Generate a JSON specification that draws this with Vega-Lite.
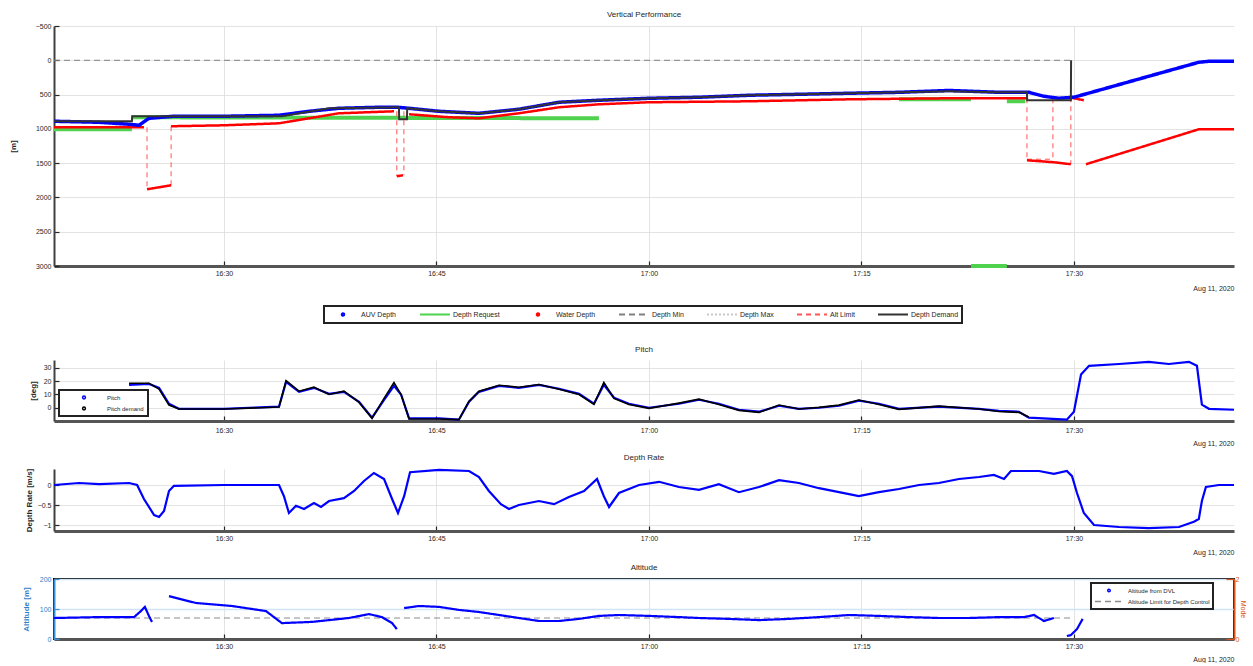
{
  "$schema": "https://vega.github.io/schema/vega-lite/v6.json",
  "padding": {"left": 9, "top": 11, "right": 0, "bottom": 0},
  "spacing": 8,
  "resolve": {"scale": {"color": "independent", "strokeDash": "independent"}, "legend": {"color": "independent", "strokeDash": "independent"}},
  "config": {
    "font": "Liberation Sans",
    "view": {"stroke": null},
    "axis": {"labelFontSize": 7, "titleFontSize": 8, "titleFontWeight": "normal", "labelColor": "#262626", "titleColor": "#262626", "gridColor": "#dcdcdc", "gridWidth": 0.8, "domainColor": "#404040", "domainWidth": 2, "tickColor": "#262626", "tickSize": -5, "labelPadding": 8, "tickWidth": 1.2},
    "axisX": {"domainWidth": 3, "domainColor": "#555555"},
    "title": {"fontSize": 8, "fontWeight": "normal", "color": "#262626", "offset": 3},
    "legend": {"labelFontSize": 7, "labelColor": "#262626"}
  },
  "vconcat": [
    {
      "title": "Vertical Performance",
      "width": 1180,
      "height": 240,
      "data": {
        "format": {"parse": {"t": "date:'%H:%M:%S'"}},
        "values": [
          {"t": "16:18:00", "d": 889, "s": "AUV Depth", "g": "a"},
          {"t": "16:21:11", "d": 904, "s": "AUV Depth", "g": "a"},
          {"t": "16:23:18", "d": 933, "s": "AUV Depth", "g": "a"},
          {"t": "16:24:00", "d": 948, "s": "AUV Depth", "g": "a"},
          {"t": "16:24:42", "d": 846, "s": "AUV Depth", "g": "a"},
          {"t": "16:26:28", "d": 816, "s": "AUV Depth", "g": "a"},
          {"t": "16:30:00", "d": 816, "s": "AUV Depth", "g": "a"},
          {"t": "16:33:53", "d": 802, "s": "AUV Depth", "g": "a"},
          {"t": "16:36:00", "d": 744, "s": "AUV Depth", "g": "a"},
          {"t": "16:38:06", "d": 700, "s": "AUV Depth", "g": "a"},
          {"t": "16:40:56", "d": 685, "s": "AUV Depth", "g": "a"},
          {"t": "16:42:12", "d": 685, "s": "AUV Depth", "g": "a"},
          {"t": "16:43:04", "d": 700, "s": "AUV Depth", "g": "a"},
          {"t": "16:45:11", "d": 744, "s": "AUV Depth", "g": "a"},
          {"t": "16:48:00", "d": 773, "s": "AUV Depth", "g": "a"},
          {"t": "16:50:49", "d": 714, "s": "AUV Depth", "g": "a"},
          {"t": "16:53:39", "d": 612, "s": "AUV Depth", "g": "a"},
          {"t": "16:56:28", "d": 583, "s": "AUV Depth", "g": "a"},
          {"t": "17:00:00", "d": 554, "s": "AUV Depth", "g": "a"},
          {"t": "17:03:32", "d": 539, "s": "AUV Depth", "g": "a"},
          {"t": "17:07:04", "d": 510, "s": "AUV Depth", "g": "a"},
          {"t": "17:10:35", "d": 496, "s": "AUV Depth", "g": "a"},
          {"t": "17:14:07", "d": 481, "s": "AUV Depth", "g": "a"},
          {"t": "17:17:39", "d": 467, "s": "AUV Depth", "g": "a"},
          {"t": "17:21:11", "d": 440, "s": "AUV Depth", "g": "a"},
          {"t": "17:24:42", "d": 467, "s": "AUV Depth", "g": "a"},
          {"t": "17:26:49", "d": 467, "s": "AUV Depth", "g": "a"},
          {"t": "17:27:53", "d": 525, "s": "AUV Depth", "g": "a"},
          {"t": "17:28:56", "d": 554, "s": "AUV Depth", "g": "a"},
          {"t": "17:30:00", "d": 539, "s": "AUV Depth", "g": "a"},
          {"t": "17:31:46", "d": 437, "s": "AUV Depth", "g": "a"},
          {"t": "17:35:17", "d": 233, "s": "AUV Depth", "g": "a"},
          {"t": "17:38:49", "d": 29, "s": "AUV Depth", "g": "a"},
          {"t": "17:39:30", "d": 15, "s": "AUV Depth", "g": "a"},
          {"t": "17:41:18", "d": 15, "s": "AUV Depth", "g": "a"},

          {"t": "16:18:00", "d": 889, "s": "Depth Demand", "g": "k"},
          {"t": "16:23:30", "d": 889, "s": "Depth Demand", "g": "k"},
          {"t": "16:23:31", "d": 816, "s": "Depth Demand", "g": "k"},
          {"t": "16:34:06", "d": 816, "s": "Depth Demand", "g": "k"},
          {"t": "16:37:25", "d": 700, "s": "Depth Demand", "g": "k"},
          {"t": "16:42:21", "d": 685, "s": "Depth Demand", "g": "k"},
          {"t": "16:42:22", "d": 860, "s": "Depth Demand", "g": "k"},
          {"t": "16:42:55", "d": 860, "s": "Depth Demand", "g": "k"},
          {"t": "16:42:56", "d": 700, "s": "Depth Demand", "g": "k"},
          {"t": "16:45:11", "d": 744, "s": "Depth Demand", "g": "k"},
          {"t": "16:48:00", "d": 773, "s": "Depth Demand", "g": "k"},
          {"t": "16:50:49", "d": 714, "s": "Depth Demand", "g": "k"},
          {"t": "16:53:39", "d": 612, "s": "Depth Demand", "g": "k"},
          {"t": "16:56:28", "d": 583, "s": "Depth Demand", "g": "k"},
          {"t": "17:00:00", "d": 554, "s": "Depth Demand", "g": "k"},
          {"t": "17:03:32", "d": 539, "s": "Depth Demand", "g": "k"},
          {"t": "17:07:04", "d": 510, "s": "Depth Demand", "g": "k"},
          {"t": "17:10:35", "d": 496, "s": "Depth Demand", "g": "k"},
          {"t": "17:14:07", "d": 481, "s": "Depth Demand", "g": "k"},
          {"t": "17:17:39", "d": 467, "s": "Depth Demand", "g": "k"},
          {"t": "17:21:11", "d": 452, "s": "Depth Demand", "g": "k"},
          {"t": "17:24:42", "d": 467, "s": "Depth Demand", "g": "k"},
          {"t": "17:26:41", "d": 467, "s": "Depth Demand", "g": "k"},
          {"t": "17:26:42", "d": 583, "s": "Depth Demand", "g": "k"},
          {"t": "17:29:47", "d": 583, "s": "Depth Demand", "g": "k"},
          {"t": "17:29:48", "d": 0, "s": "Depth Demand", "g": "k"},

          {"t": "16:18:00", "d": 977, "s": "Water Depth", "g": "w1"},
          {"t": "16:24:21", "d": 977, "s": "Water Depth", "g": "w1"},
          {"t": "16:24:34", "d": 1881, "s": "Water Depth", "g": "w2"},
          {"t": "16:26:16", "d": 1823, "s": "Water Depth", "g": "w2"},
          {"t": "16:26:16", "d": 962, "s": "Water Depth", "g": "w3"},
          {"t": "16:30:00", "d": 948, "s": "Water Depth", "g": "w3"},
          {"t": "16:33:53", "d": 919, "s": "Water Depth", "g": "w3"},
          {"t": "16:36:00", "d": 846, "s": "Water Depth", "g": "w3"},
          {"t": "16:38:06", "d": 773, "s": "Water Depth", "g": "w3"},
          {"t": "16:42:00", "d": 744, "s": "Water Depth", "g": "w3"},
          {"t": "16:42:12", "d": 1691, "s": "Water Depth", "g": "w4"},
          {"t": "16:42:38", "d": 1677, "s": "Water Depth", "g": "w4"},
          {"t": "16:43:04", "d": 787, "s": "Water Depth", "g": "w5"},
          {"t": "16:45:53", "d": 831, "s": "Water Depth", "g": "w5"},
          {"t": "16:48:00", "d": 846, "s": "Water Depth", "g": "w5"},
          {"t": "16:50:49", "d": 773, "s": "Water Depth", "g": "w5"},
          {"t": "16:53:39", "d": 685, "s": "Water Depth", "g": "w5"},
          {"t": "16:56:28", "d": 642, "s": "Water Depth", "g": "w5"},
          {"t": "17:00:00", "d": 612, "s": "Water Depth", "g": "w5"},
          {"t": "17:07:04", "d": 598, "s": "Water Depth", "g": "w5"},
          {"t": "17:14:07", "d": 569, "s": "Water Depth", "g": "w5"},
          {"t": "17:21:11", "d": 554, "s": "Water Depth", "g": "w5"},
          {"t": "17:26:41", "d": 554, "s": "Water Depth", "g": "w5"},
          {"t": "17:26:41", "d": 1458, "s": "Water Depth", "g": "w6"},
          {"t": "17:28:35", "d": 1487, "s": "Water Depth", "g": "w6"},
          {"t": "17:29:47", "d": 1516, "s": "Water Depth", "g": "w6"},
          {"t": "17:29:39", "d": 539, "s": "Water Depth", "g": "w7"},
          {"t": "17:30:42", "d": 583, "s": "Water Depth", "g": "w7"},
          {"t": "17:30:51", "d": 1516, "s": "Water Depth", "g": "w8"},
          {"t": "17:38:49", "d": 1006, "s": "Water Depth", "g": "w8"},
          {"t": "17:41:18", "d": 1006, "s": "Water Depth", "g": "w8"},

          {"t": "16:18:00", "d": 1006, "s": "Depth Request", "g": "r1"},
          {"t": "16:23:30", "d": 1006, "s": "Depth Request", "g": "r1"},
          {"t": "16:23:30", "d": 831, "s": "Depth Request", "g": "r2"},
          {"t": "16:56:28", "d": 846, "s": "Depth Request", "g": "r2"},
          {"t": "17:17:39", "d": 569, "s": "Depth Request", "g": "r3"},
          {"t": "17:22:44", "d": 569, "s": "Depth Request", "g": "r3"},
          {"t": "17:22:44", "d": 3000, "s": "Depth Request", "g": "r4"},
          {"t": "17:25:16", "d": 3000, "s": "Depth Request", "g": "r4"},
          {"t": "17:25:16", "d": 598, "s": "Depth Request", "g": "r5"},
          {"t": "17:26:34", "d": 598, "s": "Depth Request", "g": "r5"},

          {"t": "16:18:00", "d": 0, "s": "Depth Min", "g": "m"},
          {"t": "17:29:47", "d": 0, "s": "Depth Min", "g": "m"},

          {"t": "16:24:34", "d": 977, "s": "Alt Limit", "g": "l1"},
          {"t": "16:24:34", "d": 1881, "s": "Alt Limit", "g": "l1"},
          {"t": "16:26:16", "d": 962, "s": "Alt Limit", "g": "l2"},
          {"t": "16:26:16", "d": 1823, "s": "Alt Limit", "g": "l2"},
          {"t": "16:42:12", "d": 744, "s": "Alt Limit", "g": "l3"},
          {"t": "16:42:12", "d": 1691, "s": "Alt Limit", "g": "l3"},
          {"t": "16:42:42", "d": 744, "s": "Alt Limit", "g": "l4"},
          {"t": "16:42:42", "d": 1677, "s": "Alt Limit", "g": "l4"},
          {"t": "17:26:41", "d": 554, "s": "Alt Limit", "g": "l5"},
          {"t": "17:26:41", "d": 1458, "s": "Alt Limit", "g": "l5"},
          {"t": "17:26:41", "d": 1443, "s": "Alt Limit", "g": "l6"},
          {"t": "17:28:31", "d": 1443, "s": "Alt Limit", "g": "l6"},
          {"t": "17:28:31", "d": 554, "s": "Alt Limit", "g": "l7"},
          {"t": "17:28:31", "d": 1487, "s": "Alt Limit", "g": "l7"},
          {"t": "17:29:47", "d": 539, "s": "Alt Limit", "g": "l8"},
          {"t": "17:29:47", "d": 1516, "s": "Alt Limit", "g": "l8"}
        ]
      },
      "encoding": {
        "x": {"field": "t", "type": "temporal", "scale": {"domain": [{"year": 1900, "month": 1, "date": 1, "hours": 16, "minutes": 18}, {"year": 1900, "month": 1, "date": 1, "hours": 17, "minutes": 41, "seconds": 18}]},
          "axis": {"values": [{"year": 1900, "month": 1, "date": 1, "hours": 16, "minutes": 30}, {"year": 1900, "month": 1, "date": 1, "hours": 16, "minutes": 45}, {"year": 1900, "month": 1, "date": 1, "hours": 17, "minutes": 0}, {"year": 1900, "month": 1, "date": 1, "hours": 17, "minutes": 15}, {"year": 1900, "month": 1, "date": 1, "hours": 17, "minutes": 30}], "format": "%H:%M", "title": "Aug 11, 2020", "titleAnchor": "end", "titleFontSize": 7, "titlePadding": 8, "grid": true}},
        "y": {"field": "d", "type": "quantitative", "scale": {"domain": [-500, 3000], "reverse": true, "nice": false}, "axis": {"values": [-500, 0, 500, 1000, 1500, 2000, 2500, 3000], "format": "d", "title": "[m]", "titlePadding": 18, "titleFontWeight": "bold", "grid": true}},
        "color": {"field": "s", "type": "nominal", "scale": {"domain": ["AUV Depth", "Depth Request", "Water Depth", "Depth Min", "Depth Max", "Alt Limit", "Depth Demand"], "range": ["#0000ff", "#4fd34f", "#ff0000", "#808080", "#c8c8c8", "#ff5555", "#333333"]},
          "legend": {"orient": "none", "legendX": 270, "legendY": 280, "direction": "horizontal", "columns": 7, "title": null, "strokeColor": "#222222", "fillColor": "#ffffff", "padding": 3, "labelFontSize": 7, "symbolSize": 900, "symbolStrokeWidth": 2, "labelOffset": 2, "columnPadding": 22, "clipHeight": 11,
            "encode": {"legend": {"update": {"strokeWidth": {"value": 2}}}, "symbols": {"update": {"shape": {"signal": "datum.value === 'AUV Depth' || datum.value === 'Water Depth' ? 'circle' : 'stroke'"}, "size": {"signal": "datum.value === 'AUV Depth' || datum.value === 'Water Depth' ? 6 : 900"}}}}}},
        "strokeDash": {"field": "s", "type": "nominal", "scale": {"domain": ["AUV Depth", "Depth Request", "Water Depth", "Depth Min", "Depth Max", "Alt Limit", "Depth Demand"], "range": [[1, 0], [1, 0], [1, 0], [6, 4], [2, 2], [5, 4], [1, 0]]},
          "legend": {"orient": "none", "legendX": 270, "legendY": 280, "direction": "horizontal", "columns": 7, "title": null, "strokeColor": "#222222", "fillColor": "#ffffff", "padding": 3, "labelFontSize": 7, "symbolSize": 900, "symbolStrokeWidth": 2, "labelOffset": 2, "columnPadding": 22, "clipHeight": 11,
            "encode": {"legend": {"update": {"strokeWidth": {"value": 2}}}, "symbols": {"update": {"shape": {"signal": "datum.value === 'AUV Depth' || datum.value === 'Water Depth' ? 'circle' : 'stroke'"}, "size": {"signal": "datum.value === 'AUV Depth' || datum.value === 'Water Depth' ? 6 : 900"}}}}}},
        "detail": {"field": "g"}
      },
      "layer": [
        {"transform": [{"filter": "datum.s === 'Depth Min'"}], "mark": {"type": "line", "strokeWidth": 1}},
        {"transform": [{"filter": "datum.s === 'Depth Request'"}], "mark": {"type": "line", "strokeWidth": 4}},
        {"transform": [{"filter": "datum.s === 'Alt Limit'"}], "mark": {"type": "line", "strokeWidth": 1}},
        {"transform": [{"filter": "datum.s === 'Water Depth'"}], "mark": {"type": "line", "strokeWidth": 2.5}},
        {"transform": [{"filter": "datum.s === 'AUV Depth'"}], "mark": {"type": "line", "strokeWidth": 3.5}},
        {"transform": [{"filter": "datum.s === 'Depth Demand'"}], "mark": {"type": "line", "strokeWidth": 2}}
      ]
    },
    {
      "title": {"text": ["", "Pitch"], "lineHeight": 14},
      "width": 1180,
      "height": 61,
      "data": {
        "format": {"parse": {"t": "date:'%H:%M:%S'"}},
        "values": [
          {"t": "16:23:18", "p": 17.3, "s": "Pitch"}, {"t": "16:24:42", "p": 18, "s": "Pitch"}, {"t": "16:25:25", "p": 15, "s": "Pitch"}, {"t": "16:26:07", "p": 3, "s": "Pitch"}, {"t": "16:26:49", "p": -0.8, "s": "Pitch"}, {"t": "16:30:00", "p": -0.8, "s": "Pitch"}, {"t": "16:31:46", "p": 0, "s": "Pitch"}, {"t": "16:33:53", "p": 0.8, "s": "Pitch"}, {"t": "16:34:23", "p": 19.5, "s": "Pitch"}, {"t": "16:35:18", "p": 12, "s": "Pitch"}, {"t": "16:36:21", "p": 15, "s": "Pitch"}, {"t": "16:37:25", "p": 10.5, "s": "Pitch"}, {"t": "16:38:28", "p": 12, "s": "Pitch"}, {"t": "16:39:32", "p": 4.5, "s": "Pitch"}, {"t": "16:40:27", "p": -7.5, "s": "Pitch"}, {"t": "16:41:18", "p": 6, "s": "Pitch"}, {"t": "16:42:00", "p": 16.5, "s": "Pitch"}, {"t": "16:42:30", "p": 10, "s": "Pitch"}, {"t": "16:43:04", "p": -8, "s": "Pitch"}, {"t": "16:45:11", "p": -8, "s": "Pitch"}, {"t": "16:46:35", "p": -9, "s": "Pitch"}, {"t": "16:47:18", "p": 4.5, "s": "Pitch"}, {"t": "16:48:00", "p": 12, "s": "Pitch"}, {"t": "16:49:25", "p": 16.5, "s": "Pitch"}, {"t": "16:50:49", "p": 15, "s": "Pitch"}, {"t": "16:52:14", "p": 17.3, "s": "Pitch"}, {"t": "16:53:39", "p": 14.3, "s": "Pitch"}, {"t": "16:55:04", "p": 10.5, "s": "Pitch"}, {"t": "16:56:07", "p": 3, "s": "Pitch"}, {"t": "16:56:49", "p": 17.3, "s": "Pitch"}, {"t": "16:57:32", "p": 7.5, "s": "Pitch"}, {"t": "16:58:35", "p": 3, "s": "Pitch"}, {"t": "17:00:00", "p": 0, "s": "Pitch"}, {"t": "17:02:07", "p": 3, "s": "Pitch"}, {"t": "17:03:32", "p": 6, "s": "Pitch"}, {"t": "17:04:56", "p": 3, "s": "Pitch"}, {"t": "17:06:21", "p": -1.5, "s": "Pitch"}, {"t": "17:07:46", "p": -3, "s": "Pitch"}, {"t": "17:09:11", "p": 1.5, "s": "Pitch"}, {"t": "17:10:35", "p": -0.8, "s": "Pitch"}, {"t": "17:12:00", "p": 0, "s": "Pitch"}, {"t": "17:13:25", "p": 1.5, "s": "Pitch"}, {"t": "17:14:49", "p": 5.3, "s": "Pitch"}, {"t": "17:16:14", "p": 3, "s": "Pitch"}, {"t": "17:17:39", "p": -0.8, "s": "Pitch"}, {"t": "17:20:28", "p": 0.8, "s": "Pitch"}, {"t": "17:23:18", "p": -0.8, "s": "Pitch"}, {"t": "17:24:42", "p": -2.3, "s": "Pitch"}, {"t": "17:26:07", "p": -3, "s": "Pitch"}, {"t": "17:26:49", "p": -7.5, "s": "Pitch"}, {"t": "17:29:30", "p": -9, "s": "Pitch"}, {"t": "17:30:00", "p": -3, "s": "Pitch"}, {"t": "17:30:30", "p": 25, "s": "Pitch"}, {"t": "17:31:04", "p": 31.6, "s": "Pitch"}, {"t": "17:33:11", "p": 33, "s": "Pitch"}, {"t": "17:35:17", "p": 34.6, "s": "Pitch"}, {"t": "17:36:42", "p": 33, "s": "Pitch"}, {"t": "17:38:07", "p": 34.6, "s": "Pitch"}, {"t": "17:38:41", "p": 31.6, "s": "Pitch"}, {"t": "17:39:02", "p": 2.3, "s": "Pitch"}, {"t": "17:39:32", "p": -0.8, "s": "Pitch"}, {"t": "17:41:18", "p": -1.5, "s": "Pitch"},
          {"t": "16:23:18", "p": 18.5, "s": "Pitch demand"}, {"t": "16:24:42", "p": 18.5, "s": "Pitch demand"}, {"t": "16:25:25", "p": 14, "s": "Pitch demand"}, {"t": "16:26:07", "p": 2, "s": "Pitch demand"}, {"t": "16:26:49", "p": -1, "s": "Pitch demand"}, {"t": "16:30:00", "p": -1, "s": "Pitch demand"}, {"t": "16:31:46", "p": -0.3, "s": "Pitch demand"}, {"t": "16:33:53", "p": 0.5, "s": "Pitch demand"}, {"t": "16:34:23", "p": 20.5, "s": "Pitch demand"}, {"t": "16:35:18", "p": 12.5, "s": "Pitch demand"}, {"t": "16:36:21", "p": 15.5, "s": "Pitch demand"}, {"t": "16:37:25", "p": 10, "s": "Pitch demand"}, {"t": "16:38:28", "p": 12.5, "s": "Pitch demand"}, {"t": "16:39:32", "p": 4, "s": "Pitch demand"}, {"t": "16:40:27", "p": -8, "s": "Pitch demand"}, {"t": "16:41:18", "p": 7, "s": "Pitch demand"}, {"t": "16:42:00", "p": 19, "s": "Pitch demand"}, {"t": "16:42:30", "p": 10, "s": "Pitch demand"}, {"t": "16:43:04", "p": -8.5, "s": "Pitch demand"}, {"t": "16:45:11", "p": -8.5, "s": "Pitch demand"}, {"t": "16:46:35", "p": -9, "s": "Pitch demand"}, {"t": "16:47:18", "p": 5, "s": "Pitch demand"}, {"t": "16:48:00", "p": 12.5, "s": "Pitch demand"}, {"t": "16:49:25", "p": 17, "s": "Pitch demand"}, {"t": "16:50:49", "p": 15.5, "s": "Pitch demand"}, {"t": "16:52:14", "p": 17.5, "s": "Pitch demand"}, {"t": "16:53:39", "p": 14, "s": "Pitch demand"}, {"t": "16:55:04", "p": 10, "s": "Pitch demand"}, {"t": "16:56:07", "p": 2.5, "s": "Pitch demand"}, {"t": "16:56:49", "p": 19, "s": "Pitch demand"}, {"t": "16:57:32", "p": 7, "s": "Pitch demand"}, {"t": "16:58:35", "p": 2.5, "s": "Pitch demand"}, {"t": "17:00:00", "p": -0.5, "s": "Pitch demand"}, {"t": "17:02:07", "p": 3.5, "s": "Pitch demand"}, {"t": "17:03:32", "p": 6.5, "s": "Pitch demand"}, {"t": "17:04:56", "p": 2.5, "s": "Pitch demand"}, {"t": "17:06:21", "p": -2, "s": "Pitch demand"}, {"t": "17:07:46", "p": -3.5, "s": "Pitch demand"}, {"t": "17:09:11", "p": 2, "s": "Pitch demand"}, {"t": "17:10:35", "p": -1, "s": "Pitch demand"}, {"t": "17:12:00", "p": 0.3, "s": "Pitch demand"}, {"t": "17:13:25", "p": 2, "s": "Pitch demand"}, {"t": "17:14:49", "p": 5.8, "s": "Pitch demand"}, {"t": "17:16:14", "p": 2.5, "s": "Pitch demand"}, {"t": "17:17:39", "p": -1.2, "s": "Pitch demand"}, {"t": "17:20:28", "p": 1.2, "s": "Pitch demand"}, {"t": "17:23:18", "p": -1, "s": "Pitch demand"}, {"t": "17:24:42", "p": -2.8, "s": "Pitch demand"}, {"t": "17:26:07", "p": -3.5, "s": "Pitch demand"}, {"t": "17:26:49", "p": -7, "s": "Pitch demand"}
        ]
      },
      "encoding": {
        "x": {"field": "t", "type": "temporal", "scale": {"domain": [{"year": 1900, "month": 1, "date": 1, "hours": 16, "minutes": 18}, {"year": 1900, "month": 1, "date": 1, "hours": 17, "minutes": 41, "seconds": 18}]},
          "axis": {"values": [{"year": 1900, "month": 1, "date": 1, "hours": 16, "minutes": 30}, {"year": 1900, "month": 1, "date": 1, "hours": 16, "minutes": 45}, {"year": 1900, "month": 1, "date": 1, "hours": 17, "minutes": 0}, {"year": 1900, "month": 1, "date": 1, "hours": 17, "minutes": 15}, {"year": 1900, "month": 1, "date": 1, "hours": 17, "minutes": 30}], "format": "%H:%M", "title": "Aug 11, 2020", "titleAnchor": "end", "titleFontSize": 7, "titlePadding": 6, "labelPadding": 10, "grid": true}},
        "y": {"field": "p", "type": "quantitative", "scale": {"domain": [-10, 36], "nice": false}, "axis": {"values": [0, 10, 20, 30], "title": "[deg]", "titlePadding": 6, "titleFontWeight": "bold", "grid": true}},
        "color": {"field": "s", "type": "nominal", "scale": {"domain": ["Pitch", "Pitch demand"], "range": ["#0000ff", "#000000"]},
          "legend": {"orient": "none", "legendX": 5, "legendY": 30, "title": null, "strokeColor": "#222222", "fillColor": "#ffffff", "padding": 4, "symbolType": "circle", "symbolSize": 8, "symbolOffset": 18, "labelFontSize": 6, "labelOffset": 20, "rowPadding": 4, "clipHeight": 7,
            "encode": {"legend": {"update": {"strokeWidth": {"value": 2}}}}}}
      },
      "layer": [
        {"transform": [{"filter": "datum.s === 'Pitch'"}], "mark": {"type": "line", "strokeWidth": 2.2}},
        {"transform": [{"filter": "datum.s === 'Pitch demand'"}], "mark": {"type": "line", "strokeWidth": 1.6}}
      ]
    },
    {
      "title": "Depth Rate",
      "width": 1180,
      "height": 62,
      "data": {
        "format": {"parse": {"t": "date:'%H:%M:%S'"}},
        "values": [
          {"t": "16:18:00", "r": 0}, {"t": "16:19:46", "r": 0.05}, {"t": "16:21:11", "r": 0.02}, {"t": "16:23:18", "r": 0.05}, {"t": "16:23:52", "r": 0}, {"t": "16:24:21", "r": -0.35}, {"t": "16:25:04", "r": -0.75}, {"t": "16:25:25", "r": -0.8}, {"t": "16:25:46", "r": -0.65}, {"t": "16:26:07", "r": -0.15}, {"t": "16:26:28", "r": -0.02}, {"t": "16:30:00", "r": 0}, {"t": "16:33:53", "r": 0}, {"t": "16:34:14", "r": -0.28}, {"t": "16:34:35", "r": -0.7}, {"t": "16:35:05", "r": -0.52}, {"t": "16:35:39", "r": -0.6}, {"t": "16:36:21", "r": -0.45}, {"t": "16:36:51", "r": -0.55}, {"t": "16:37:25", "r": -0.4}, {"t": "16:38:28", "r": -0.33}, {"t": "16:39:11", "r": -0.15}, {"t": "16:39:53", "r": 0.1}, {"t": "16:40:35", "r": 0.3}, {"t": "16:41:18", "r": 0.15}, {"t": "16:41:52", "r": -0.35}, {"t": "16:42:17", "r": -0.7}, {"t": "16:42:43", "r": -0.28}, {"t": "16:43:08", "r": 0.32}, {"t": "16:45:11", "r": 0.38}, {"t": "16:47:18", "r": 0.35}, {"t": "16:48:00", "r": 0.2}, {"t": "16:48:42", "r": -0.15}, {"t": "16:49:33", "r": -0.48}, {"t": "16:50:07", "r": -0.6}, {"t": "16:50:49", "r": -0.5}, {"t": "16:52:14", "r": -0.4}, {"t": "16:53:18", "r": -0.48}, {"t": "16:54:21", "r": -0.3}, {"t": "16:55:25", "r": -0.15}, {"t": "16:56:20", "r": 0.15}, {"t": "16:56:49", "r": -0.28}, {"t": "16:57:11", "r": -0.55}, {"t": "16:57:53", "r": -0.2}, {"t": "16:59:18", "r": 0}, {"t": "17:00:43", "r": 0.08}, {"t": "17:02:07", "r": -0.05}, {"t": "17:03:32", "r": -0.12}, {"t": "17:04:56", "r": 0.02}, {"t": "17:06:21", "r": -0.18}, {"t": "17:07:46", "r": -0.05}, {"t": "17:09:11", "r": 0.12}, {"t": "17:10:35", "r": 0.05}, {"t": "17:12:00", "r": -0.08}, {"t": "17:13:25", "r": -0.18}, {"t": "17:14:49", "r": -0.28}, {"t": "17:16:14", "r": -0.18}, {"t": "17:17:39", "r": -0.1}, {"t": "17:19:04", "r": 0}, {"t": "17:20:28", "r": 0.05}, {"t": "17:21:53", "r": 0.15}, {"t": "17:23:18", "r": 0.2}, {"t": "17:24:21", "r": 0.25}, {"t": "17:25:04", "r": 0.15}, {"t": "17:25:33", "r": 0.35}, {"t": "17:27:32", "r": 0.35}, {"t": "17:28:35", "r": 0.28}, {"t": "17:29:30", "r": 0.35}, {"t": "17:29:52", "r": 0.22}, {"t": "17:30:13", "r": -0.2}, {"t": "17:30:42", "r": -0.7}, {"t": "17:31:25", "r": -1.0}, {"t": "17:33:11", "r": -1.05}, {"t": "17:35:17", "r": -1.08}, {"t": "17:37:25", "r": -1.05}, {"t": "17:38:28", "r": -0.92}, {"t": "17:38:49", "r": -0.85}, {"t": "17:39:02", "r": -0.4}, {"t": "17:39:19", "r": -0.05}, {"t": "17:40:14", "r": 0}, {"t": "17:41:18", "r": 0}
        ]
      },
      "mark": {"type": "line", "color": "#0000ff", "strokeWidth": 2.2},
      "encoding": {
        "x": {"field": "t", "type": "temporal", "scale": {"domain": [{"year": 1900, "month": 1, "date": 1, "hours": 16, "minutes": 18}, {"year": 1900, "month": 1, "date": 1, "hours": 17, "minutes": 41, "seconds": 18}]},
          "axis": {"values": [{"year": 1900, "month": 1, "date": 1, "hours": 16, "minutes": 30}, {"year": 1900, "month": 1, "date": 1, "hours": 16, "minutes": 45}, {"year": 1900, "month": 1, "date": 1, "hours": 17, "minutes": 0}, {"year": 1900, "month": 1, "date": 1, "hours": 17, "minutes": 15}, {"year": 1900, "month": 1, "date": 1, "hours": 17, "minutes": 30}], "format": "%H:%M", "title": "Aug 11, 2020", "titleAnchor": "end", "titleFontSize": 7, "titlePadding": 7, "grid": true}},
        "y": {"field": "r", "type": "quantitative", "scale": {"domain": [-1.15, 0.4], "nice": false}, "axis": {"values": [-1, -0.5, 0], "format": "~g", "title": "Depth Rate [m/s]", "titleFontWeight": "bold", "grid": true}}
      }
    },
    {
      "title": "Altitude",
      "width": 1180,
      "height": 60,
      "view": {"stroke": "#000000", "strokeWidth": 2},
      "data": {
        "format": {"parse": {"t": "date:'%H:%M:%S'"}},
        "values": [
          {"t": "16:18:00", "a": 70, "s": "Altitude from DVL", "g": "A1"}, {"t": "16:21:11", "a": 73, "s": "Altitude from DVL", "g": "A1"}, {"t": "16:23:39", "a": 73, "s": "Altitude from DVL", "g": "A1"}, {"t": "16:24:08", "a": 93, "s": "Altitude from DVL", "g": "A1"}, {"t": "16:24:25", "a": 107, "s": "Altitude from DVL", "g": "A1"}, {"t": "16:24:42", "a": 77, "s": "Altitude from DVL", "g": "A1"}, {"t": "16:24:55", "a": 57, "s": "Altitude from DVL", "g": "A1"},
          {"t": "16:26:07", "a": 143, "s": "Altitude from DVL", "g": "A2"}, {"t": "16:28:01", "a": 120, "s": "Altitude from DVL", "g": "A2"}, {"t": "16:30:34", "a": 110, "s": "Altitude from DVL", "g": "A2"}, {"t": "16:32:58", "a": 93, "s": "Altitude from DVL", "g": "A2"}, {"t": "16:34:05", "a": 53, "s": "Altitude from DVL", "g": "A2"}, {"t": "16:36:13", "a": 57, "s": "Altitude from DVL", "g": "A2"}, {"t": "16:38:49", "a": 70, "s": "Altitude from DVL", "g": "A2"}, {"t": "16:40:14", "a": 83, "s": "Altitude from DVL", "g": "A2"}, {"t": "16:41:09", "a": 73, "s": "Altitude from DVL", "g": "A2"}, {"t": "16:41:52", "a": 53, "s": "Altitude from DVL", "g": "A2"}, {"t": "16:42:12", "a": 33, "s": "Altitude from DVL", "g": "A2"},
          {"t": "16:42:43", "a": 103, "s": "Altitude from DVL", "g": "A3"}, {"t": "16:43:46", "a": 110, "s": "Altitude from DVL", "g": "A3"}, {"t": "16:45:11", "a": 107, "s": "Altitude from DVL", "g": "A3"}, {"t": "16:46:35", "a": 97, "s": "Altitude from DVL", "g": "A3"}, {"t": "16:48:00", "a": 90, "s": "Altitude from DVL", "g": "A3"}, {"t": "16:49:25", "a": 80, "s": "Altitude from DVL", "g": "A3"}, {"t": "16:50:49", "a": 70, "s": "Altitude from DVL", "g": "A3"}, {"t": "16:52:14", "a": 60, "s": "Altitude from DVL", "g": "A3"}, {"t": "16:53:39", "a": 60, "s": "Altitude from DVL", "g": "A3"}, {"t": "16:55:04", "a": 67, "s": "Altitude from DVL", "g": "A3"}, {"t": "16:56:28", "a": 77, "s": "Altitude from DVL", "g": "A3"}, {"t": "16:57:53", "a": 80, "s": "Altitude from DVL", "g": "A3"}, {"t": "17:00:00", "a": 77, "s": "Altitude from DVL", "g": "A3"}, {"t": "17:02:07", "a": 73, "s": "Altitude from DVL", "g": "A3"}, {"t": "17:03:32", "a": 70, "s": "Altitude from DVL", "g": "A3"}, {"t": "17:05:39", "a": 67, "s": "Altitude from DVL", "g": "A3"}, {"t": "17:07:46", "a": 63, "s": "Altitude from DVL", "g": "A3"}, {"t": "17:09:53", "a": 67, "s": "Altitude from DVL", "g": "A3"}, {"t": "17:12:00", "a": 73, "s": "Altitude from DVL", "g": "A3"}, {"t": "17:14:07", "a": 80, "s": "Altitude from DVL", "g": "A3"}, {"t": "17:16:14", "a": 77, "s": "Altitude from DVL", "g": "A3"}, {"t": "17:18:21", "a": 73, "s": "Altitude from DVL", "g": "A3"}, {"t": "17:20:28", "a": 70, "s": "Altitude from DVL", "g": "A3"}, {"t": "17:22:35", "a": 70, "s": "Altitude from DVL", "g": "A3"}, {"t": "17:24:42", "a": 73, "s": "Altitude from DVL", "g": "A3"}, {"t": "17:26:28", "a": 73, "s": "Altitude from DVL", "g": "A3"}, {"t": "17:27:11", "a": 80, "s": "Altitude from DVL", "g": "A3"}, {"t": "17:27:53", "a": 60, "s": "Altitude from DVL", "g": "A3"}, {"t": "17:28:35", "a": 70, "s": "Altitude from DVL", "g": "A3"},
          {"t": "17:29:30", "a": 10, "s": "Altitude from DVL", "g": "A4"}, {"t": "17:29:47", "a": 13, "s": "Altitude from DVL", "g": "A4"}, {"t": "17:30:13", "a": 33, "s": "Altitude from DVL", "g": "A4"}, {"t": "17:30:37", "a": 67, "s": "Altitude from DVL", "g": "A4"},
          {"t": "16:18:00", "a": 70, "s": "Altitude Limit for Depth Control", "g": "L"}, {"t": "17:29:47", "a": 70, "s": "Altitude Limit for Depth Control", "g": "L"}
        ]
      },
      "layer": [
        {
          "encoding": {
            "x": {"field": "t", "type": "temporal", "scale": {"domain": [{"year": 1900, "month": 1, "date": 1, "hours": 16, "minutes": 18}, {"year": 1900, "month": 1, "date": 1, "hours": 17, "minutes": 41, "seconds": 18}]},
              "axis": {"values": [{"year": 1900, "month": 1, "date": 1, "hours": 16, "minutes": 30}, {"year": 1900, "month": 1, "date": 1, "hours": 16, "minutes": 45}, {"year": 1900, "month": 1, "date": 1, "hours": 17, "minutes": 0}, {"year": 1900, "month": 1, "date": 1, "hours": 17, "minutes": 15}, {"year": 1900, "month": 1, "date": 1, "hours": 17, "minutes": 30}], "format": "%H:%M", "title": "Aug 11, 2020", "titleAnchor": "end", "titleFontSize": 7, "titlePadding": 6, "grid": true}},
            "y": {"field": "a", "type": "quantitative", "scale": {"domain": [0, 200], "nice": false}, "axis": {"values": [0, 100, 200], "title": "Altitude [m]", "titlePadding": 9, "titleFontWeight": "bold", "grid": true, "gridColor": "#cfe4f7", "gridWidth": 1.5, "domainColor": "#3d8fd6", "labelColor": "#2f7fc8", "titleColor": "#2f7fc8", "tickColor": "#3d8fd6"}},
            "color": {"field": "s", "type": "nominal", "scale": {"domain": ["Altitude from DVL", "Altitude Limit for Depth Control"], "range": ["#0000ff", "#8c8c8c"]},
              "legend": {"orient": "none", "legendX": 1037, "legendY": 4, "title": null, "strokeColor": "#222222", "fillColor": "#ffffff", "padding": 3, "symbolSize": 784, "symbolStrokeWidth": 1.5, "labelFontSize": 6, "labelOffset": 4, "rowPadding": 2, "clipHeight": 9,
                "encode": {"legend": {"update": {"strokeWidth": {"value": 2}}}, "symbols": {"update": {"shape": {"signal": "datum.value === 'Altitude from DVL' ? 'circle' : 'stroke'"}, "size": {"signal": "datum.value === 'Altitude from DVL' ? 6 : 784"}}}}}},
            "strokeDash": {"field": "s", "type": "nominal", "scale": {"domain": ["Altitude from DVL", "Altitude Limit for Depth Control"], "range": [[1, 0], [6, 4]]},
              "legend": {"orient": "none", "legendX": 1037, "legendY": 4, "title": null, "strokeColor": "#222222", "fillColor": "#ffffff", "padding": 3, "symbolSize": 784, "symbolStrokeWidth": 1.5, "labelFontSize": 6, "labelOffset": 4, "rowPadding": 2, "clipHeight": 9,
                "encode": {"legend": {"update": {"strokeWidth": {"value": 2}}}, "symbols": {"update": {"shape": {"signal": "datum.value === 'Altitude from DVL' ? 'circle' : 'stroke'"}, "size": {"signal": "datum.value === 'Altitude from DVL' ? 6 : 784"}}}}}},
            "detail": {"field": "g"}
          },
          "layer": [
            {"transform": [{"filter": "datum.s === 'Altitude Limit for Depth Control'"}], "mark": {"type": "line", "strokeWidth": 1}},
            {"transform": [{"filter": "datum.s === 'Altitude from DVL'"}], "mark": {"type": "line", "strokeWidth": 2.2}}
          ]
        },
        {
          "mark": {"type": "line", "opacity": 0, "clip": true},
          "encoding": {
            "x": {"field": "t", "type": "temporal", "scale": {"domain": [{"year": 1900, "month": 1, "date": 1, "hours": 16, "minutes": 18}, {"year": 1900, "month": 1, "date": 1, "hours": 17, "minutes": 41, "seconds": 18}]}},
            "y": {"field": "a", "type": "quantitative", "scale": {"domain": [0, 2], "nice": false}, "axis": {"orient": "right", "values": [0, 1, 2], "format": "d", "title": "Mode", "titleFontSize": 7, "titlePadding": 1, "grid": false, "domainColor": "#d95319", "labelColor": "#d95319", "titleColor": "#d95319", "tickColor": "#d95319", "tickSize": -8, "labelPadding": 9}}
          }
        }
      ],
      "resolve": {"scale": {"y": "independent"}}
    }
  ]
}
